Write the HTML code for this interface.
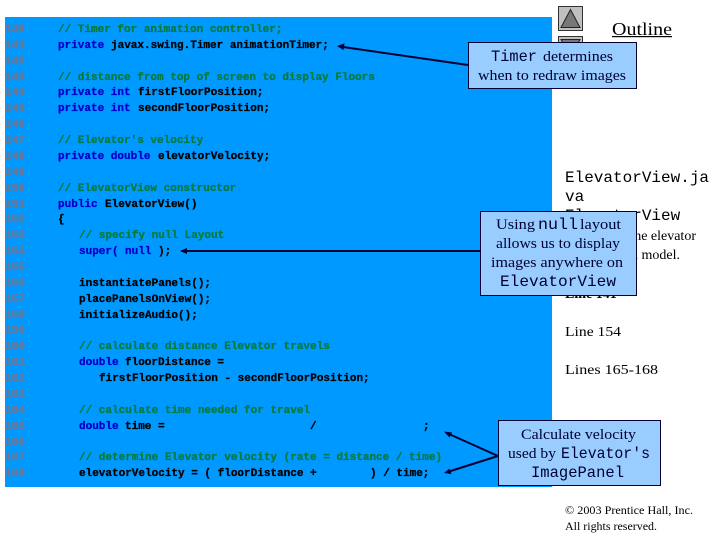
<!DOCTYPE html>
<html><head><meta charset="utf-8"><style>
html,body{margin:0;padding:0;background:#fff}
svg{display:block}
.c text{font-family:"Liberation Mono",monospace;font-size:11px;font-weight:bold;fill:#000;stroke:#000;stroke-width:.3px;white-space:pre}
.c{filter:url(#b)}
.c .n{fill:#65799a;stroke:#65799a;stroke-width:.6px}
.c .g{fill:#007a3d;stroke:#007a3d}
.c .k{fill:#0000cc;stroke:#0000cc}
.s{font-family:"Liberation Serif",serif;font-size:14px;fill:#000}
.m{font-family:"Liberation Mono",monospace;font-size:16px;fill:#000}
.t{font-family:"Liberation Serif",serif;font-size:15px;fill:#000033}
.tm{font-family:"Liberation Mono",monospace;font-size:16px;fill:#000033}
</style></head><body>
<svg width="720" height="540" viewBox="0 0 720 540" xmlns="http://www.w3.org/2000/svg">
<defs>
<filter id="b" x="-5%" y="-5%" width="110%" height="110%"><feGaussianBlur stdDeviation="0.35"/></filter>
</defs>
<rect x="5" y="17" width="547" height="470" fill="#0099ff"/>
<g class="c">
<text class="n" x="5" y="32">140</text><text class="g" x="58" y="32">// Timer for animation controller;</text>
<text class="n" x="5" y="48">141</text><text class="k" x="58" y="48">private</text><text x="111" y="48">javax.swing.Timer animationTimer;</text>
<text class="n" x="5" y="64">142</text>
<text class="n" x="5" y="80">143</text><text class="g" x="58" y="80">// distance from top of screen to display Floors</text>
<text class="n" x="5" y="95">144</text><text class="k" x="58" y="95">private int</text><text x="138" y="95">firstFloorPosition;</text>
<text class="n" x="5" y="111">145</text><text class="k" x="58" y="111">private int</text><text x="138" y="111">secondFloorPosition;</text>
<text class="n" x="5" y="127">146</text>
<text class="n" x="5" y="143">147</text><text class="g" x="58" y="143">// Elevator's velocity</text>
<text class="n" x="5" y="159">148</text><text class="k" x="58" y="159">private double</text><text x="158" y="159">elevatorVelocity;</text>
<text class="n" x="5" y="175">149</text>
<text class="n" x="5" y="191">150</text><text class="g" x="58" y="191">// ElevatorView constructor</text>
<text class="n" x="5" y="207">151</text><text class="k" x="58" y="207">public</text><text x="105" y="207">ElevatorView()</text>
<text class="n" x="5" y="222">152</text><text x="58" y="222">{</text>
<text class="n" x="5" y="238">153</text><text class="g" x="79" y="238">// specify null Layout</text>
<text class="n" x="5" y="254">154</text><text class="k" x="79" y="254">super(</text><text class="k" x="125" y="254">null</text><text x="158" y="254">);</text>
<text class="n" x="5" y="270">155</text>
<text class="n" x="5" y="286">156</text><text x="79" y="286">instantiatePanels();</text>
<text class="n" x="5" y="302">157</text><text x="79" y="302">placePanelsOnView();</text>
<text class="n" x="5" y="318">158</text><text x="79" y="318">initializeAudio();</text>
<text class="n" x="5" y="333">159</text>
<text class="n" x="5" y="349">160</text><text class="g" x="79" y="349">// calculate distance Elevator travels</text>
<text class="n" x="5" y="365">161</text><text class="k" x="79" y="365">double</text><text x="125" y="365">floorDistance =</text>
<text class="n" x="5" y="381">162</text><text x="99" y="381">firstFloorPosition - secondFloorPosition;</text>
<text class="n" x="5" y="397">163</text>
<text class="n" x="5" y="413">164</text><text class="g" x="79" y="413">// calculate time needed for travel</text>
<text class="n" x="5" y="429">165</text><text class="k" x="79" y="429">double</text><text x="125" y="429">time =</text><text x="310" y="429">/</text><text x="423" y="429">;</text>
<text class="n" x="5" y="445">166</text>
<text class="n" x="5" y="460">167</text><text class="g" x="79" y="460">// determine Elevator velocity (rate = distance / time)</text>
<text class="n" x="5" y="476">168</text><text x="79" y="476">elevatorVelocity = ( floorDistance +</text><text x="370" y="476">) / time;</text>
</g>

<!-- navigation buttons -->
<rect x="558.5" y="6.5" width="24" height="24" fill="#c0c0c0" stroke="#333"/>
<path d="M570.5 9.5L561 27.5H580Z" fill="#777" stroke="#222"/>
<rect x="558.5" y="36.5" width="24" height="24" fill="#c0c0c0" stroke="#333"/>
<path d="M561 39.5H580L570.5 57Z" fill="#777" stroke="#222"/>

<text x="612" y="35" font-family="Liberation Serif, serif" font-size="18" fill="#000" textLength="60" lengthAdjust="spacingAndGlyphs">Outline</text>
<rect x="612" y="36" width="60" height="1.2" fill="#000"/>

<!-- side text -->
<text class="m" x="565" y="182">ElevatorView.ja</text>
<text class="m" x="565" y="201">va</text>
<text class="m" x="565" y="220">ElevatorView</text>
<text class="s" x="696" y="240" text-anchor="end">View of the elevator</text>
<text class="s" x="680" y="259" text-anchor="end">simulation model.</text>
<text class="s" x="565" y="298" font-weight="bold">Line 141</text>
<text class="s" x="565" y="336" textLength="56" lengthAdjust="spacingAndGlyphs">Line 154</text>
<text class="s" x="565" y="374" textLength="93" lengthAdjust="spacingAndGlyphs">Lines 165-168</text>
<text x="565" y="514" font-family="Liberation Serif, serif" font-size="12" fill="#000" textLength="128" lengthAdjust="spacingAndGlyphs">© 2003 Prentice Hall, Inc.</text>
<text x="565" y="530" font-family="Liberation Serif, serif" font-size="12" fill="#000" textLength="92" lengthAdjust="spacingAndGlyphs">All rights reserved.</text>

<!-- connectors -->
<g fill="none" stroke="#000033" stroke-width="2">
<path d="M468 65L343 47"/>
<path d="M480 251L186 251"/>
<path d="M498 456L449 434"/>
<path d="M498 456L449 471.5"/>
</g>
<g fill="#000033">
<path d="M337 46L344.5 43.5L343.5 50Z"/>
<path d="M180 251L187 248V254Z"/>
<path d="M444 431.5L452 432.5L449.5 437.5Z"/>
<path d="M444 473L449.5 468.5L451.5 474Z"/>
</g>

<!-- callouts -->
<rect x="468.5" y="42.5" width="168" height="46" fill="#99ccff" stroke="#000033"/>
<text class="tm" x="491" y="61" textLength="46" lengthAdjust="spacingAndGlyphs">Timer</text>
<text class="t" x="543" y="61" textLength="70" lengthAdjust="spacingAndGlyphs">determines</text>
<text class="t" x="478" y="80" textLength="148" lengthAdjust="spacingAndGlyphs">when to redraw images</text>

<rect x="480.5" y="211.5" width="156" height="84" fill="#99ccff" stroke="#000033"/>
<text class="t" x="496" y="229" textLength="39" lengthAdjust="spacingAndGlyphs">Using</text>
<text class="tm" x="538" y="229" textLength="40" lengthAdjust="spacingAndGlyphs">null</text>
<text class="t" x="580" y="229" textLength="41" lengthAdjust="spacingAndGlyphs">layout</text>
<text class="t" x="496" y="248" textLength="124" lengthAdjust="spacingAndGlyphs">allows us to display</text>
<text class="t" x="491" y="267" textLength="132" lengthAdjust="spacingAndGlyphs">images anywhere on</text>
<text class="tm" x="500" y="286" textLength="116" lengthAdjust="spacingAndGlyphs">ElevatorView</text>

<rect x="498.5" y="420.5" width="162" height="65" fill="#99ccff" stroke="#000033"/>
<text class="t" x="521" y="439" textLength="115" lengthAdjust="spacingAndGlyphs">Calculate velocity</text>
<text class="t" x="508" y="458" textLength="48" lengthAdjust="spacingAndGlyphs">used by</text>
<text class="tm" x="561" y="458" textLength="89" lengthAdjust="spacingAndGlyphs">Elevator's</text>
<text class="tm" x="531" y="477" textLength="93" lengthAdjust="spacingAndGlyphs">ImagePanel</text>
</svg>
</body></html>
